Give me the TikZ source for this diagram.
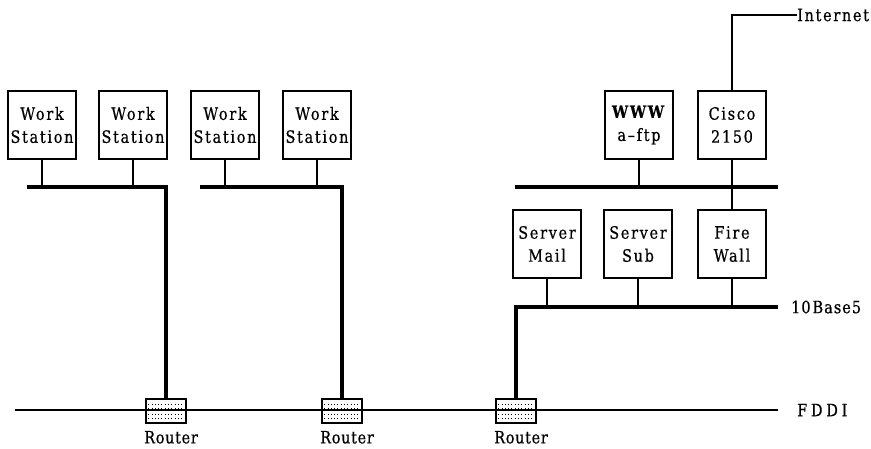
\documentclass[tikz,border=0pt]{standalone}
\usepackage{fontspec}
\setmainfont{DejaVu Serif}[FakeStretch=0.85, LetterSpace=10, FakeBold=0.6]
\begin{document}
\begin{tikzpicture}[x=1pt,y=-1pt,
  thinline/.style={line width=1.1pt},
  busline/.style={line width=3.4pt, line join=miter},
  hostbox/.style={draw, line width=1.1pt, minimum width=68pt, minimum height=68pt,
    inner sep=0pt, align=center, font=\fontsize{17}{23}\selectfont},
  routerbox/.style={draw, line width=1.6pt, fill=white, minimum width=40pt,
    minimum height=24pt, inner sep=0pt},
  dotrow/.style={line width=0.9pt, dash pattern=on 0.9pt off 2.4pt},
  lbl/.style={font=\fontsize{17}{18}\selectfont, inner sep=0pt},
  routerlbl/.style={lbl, font=\fontsize{17}{18}\selectfont\addfontfeatures{LetterSpace=4}}]
\useasboundingbox (0,0) rectangle (871,448);

% hosts on the two workstation segments
\node[hostbox] (ws1) at (42,125) {Work\\Station};
\node[hostbox] (ws2) at (133,125) {Work\\Station};
\node[hostbox] (ws3) at (225,125) {Work\\Station};
\node[hostbox] (ws4) at (317,125) {Work\\Station};

% outer segment
\node[hostbox] (www) at (639,125) {\textbf{WWW}\\a–ftp};
\node[hostbox] (cisco) at (732,125) {Cisco\\2150};

% 10Base5 segment
\node[hostbox] (mail) at (547,244) {Server\\Mail};
\node[hostbox] (sub) at (638,244) {Server\\Sub};
\node[hostbox] (fw) at (732,244) {Fire\\Wall};

% routers on the FDDI ring
\foreach \n/\x in {r1/166, r2/342, r3/516} {
  \node[routerbox] (\n) at (\x,411) {};
  \foreach \dy in {-7,-3,3,7}
    \draw[dotrow] ([xshift=3pt,yshift=-\dy pt]\n.west) -- ([xshift=-3pt,yshift=-\dy pt]\n.east);
  \node[routerlbl, anchor=north] (\n lbl) at ([xshift=5pt,yshift=-7pt]\n.south) {Router};
}

% bus end points
\coordinate (b1) at (27,187);
\coordinate (b2) at (200,187);
\coordinate (b3a) at (515,187);
\coordinate (b3b) at (778,187);
\coordinate (b4) at (778,307);
\coordinate (f1) at (15,410);
\coordinate (f2) at (778,410);
\coordinate (inet) at (797,15);

% thick bus cables
\draw[busline] (b1) -| (r1.north);
\draw[busline] (b2) -| (r2.north);
\draw[busline] (b3a) -- (b3b);
\draw[busline] (b4) -| (r3.north);
\draw[line width=2.6pt] (f1) -- (f2);

% drop cables
\foreach \h in {ws1,ws2,ws3,ws4,www}
  \draw[thinline] (\h.south) -- (\h.south |- b1);
\foreach \h in {mail,sub,fw}
  \draw[thinline] (\h.south) -- (\h.south |- b4);
\draw[thinline] (cisco.south) -- (fw.north);
\draw[thinline] (cisco.north) |- (inet);

% segment labels
\node[lbl, anchor=west] (inetlbl) at (797,15) {Internet};
\node[lbl, anchor=west, font=\fontsize{17}{18}\selectfont\addfontfeatures{LetterSpace=6}] (tenlbl) at (791,307) {10\hspace{2pt}Base5};
\node[lbl, anchor=west, font=\fontsize{17}{18}\selectfont\addfontfeatures{LetterSpace=22}] (fddilbl) at (797,410) {FDDI};
\end{tikzpicture}
\end{document}
